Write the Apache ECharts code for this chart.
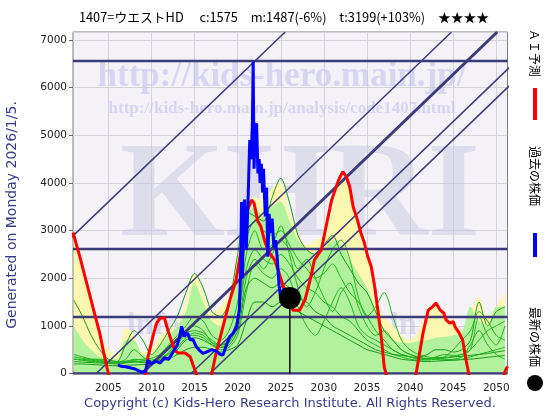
<!DOCTYPE html>
<html><head><meta charset="utf-8">
<script src="https://cdn.jsdelivr.net/npm/echarts@6/dist/echarts.min.js"></script>
<style>html,body{margin:0;padding:0;background:#fff}#c{width:560px;height:420px}</style>
</head><body><div id="c"></div>
<script>
// ---------- data ----------
const xTicks = [2005, 2010, 2015, 2020, 2025, 2030, 2035, 2040, 2045, 2050];
const years = [2001,2002,2003,2004,2005,2006,2007,2008,2009,2010,2011,2012,2013,2014,2015,2016,2017,2018,2019,2020,2021,2022,2023,2024,2025,2026,2027,2028,2029,2030,2031,2032,2033,2034,2035,2036,2037,2038,2039,2040,2041,2042,2043,2044,2045,2046,2047,2048,2049,2050,2051];

const bandYellow = [2950,2100,1500,900,500,400,950,800,450,500,800,900,1000,1500,2100,1700,1300,1400,1700,2600,3600,3700,3600,3900,4000,3400,2900,2700,2800,2900,3500,4100,3900,3200,2600,1600,1200,1000,800,700,900,1300,1500,1200,1100,900,1300,1600,1200,1400,1700];
const bandGreen = [1000,700,500,350,300,300,700,700,400,400,600,800,1000,1300,1900,1500,1100,1000,1300,2200,3300,3500,3300,3500,3600,3200,2800,2600,2500,2600,2800,2700,2400,2100,1800,1300,900,700,650,640,680,700,750,770,800,850,1400,1100,1000,1400,1400];

const green1 = [1540,1200,800,500,300,250,600,900,700,400,600,900,1200,1700,2100,1800,1300,1200,1500,2500,3400,3300,3200,3700,4100,3600,2900,2600,2500,2700,2900,2500,2200,1900,1700,1300,900,700,500,400,350,400,500,500,450,500,700,1500,1000,1300,1400];
const green2 = [400,350,300,280,250,230,300,500,350,250,400,600,800,1000,1200,1100,800,700,900,1500,2800,3200,3000,2900,3000,2700,2400,2200,2000,2100,2300,2000,1700,1500,1200,900,700,500,400,350,300,300,350,400,380,400,500,700,900,1000,1100];
const green3 = [300,280,260,250,240,230,250,300,280,260,300,450,650,850,900,850,700,600,700,1200,2200,2600,2400,2300,2500,2300,2000,1800,1700,1500,1400,1200,1100,900,700,600,500,400,350,300,280,300,320,300,280,300,350,400,450,500,550];
const green4 = [250,240,230,220,210,200,220,240,230,220,260,350,500,700,750,700,600,550,600,900,1800,2000,1900,1800,1900,1800,1600,1500,1300,1200,1000,900,800,700,600,500,450,400,380,350,330,320,330,340,350,360,380,400,420,450,480];
const green5 = [350,320,300,300,280,250,260,280,300,320,400,500,700,900,1000,900,650,550,650,1100,2500,3000,2600,2700,3100,2500,1800,1400,1700,2200,2600,2800,2400,1600,1200,1400,1700,1200,700,500,400,350,300,280,300,350,600,900,600,400,300];
const green6 = [300,300,280,260,240,220,230,250,260,280,330,420,600,800,800,750,600,500,550,800,1700,2300,2100,2000,2200,2000,1400,1000,800,1100,1500,1800,1500,1000,800,700,600,500,400,350,300,280,300,320,350,400,500,1200,800,600,1000];
const green7 = [200,200,190,180,170,160,170,180,190,200,250,300,400,500,550,550,500,450,500,600,1100,1500,1500,1400,1500,1400,1300,1200,1100,1000,900,800,700,600,500,450,400,350,300,280,260,250,260,270,280,290,300,320,340,360,380];
const green8 = [300,280,250,240,230,220,240,260,240,230,280,400,550,750,850,800,650,600,650,1000,2000,2400,2200,2500,2800,2600,2200,2400,2000,1600,1300,1700,1900,1400,1000,800,900,700,500,400,350,300,320,350,500,700,900,1300,1100,800,700];

const blueYears = [2006.1,2006.5,2007,2007.5,2008,2008.5,2008.9,2009.3,2009.6,2010,2010.5,2011,2011.5,2012,2012.5,2013,2013.3,2013.5,2013.8,2014.2,2014.5,2014.8,2015.2,2015.6,2016,2016.5,2017,2017.5,2018,2018.3,2018.7,2019.1,2019.5,2019.9,2020.2,2020.35,2020.45,2020.55,2020.7,2020.8,2021.0,2021.2,2021.4,2021.55,2021.7,2021.8,2021.9,2022.05,2022.2,2022.35,2022.5,2022.6,2022.75,2022.9,2023.0,2023.2,2023.35,2023.5,2023.65,2023.8,2024.0,2024.2,2024.4,2024.6,2024.8,2025.0,2025.3,2025.5,2025.7,2026.0];
const blueValues = [180,150,140,120,100,60,30,40,280,200,260,220,330,300,450,600,800,990,780,850,700,720,560,480,420,460,500,470,400,390,600,780,850,1000,1350,2200,3600,2000,3500,3650,2600,3600,4900,4500,5200,6550,4300,5200,5250,4200,4500,4000,4400,3800,4300,3300,3900,2450,3350,2950,3250,2650,2800,2400,1850,1550,1780,1750,1600,1585];

const redYears = [2000.9,2001.7,2002.3,2002.9,2003.5,2004.0,2004.5,2005.0,2005.5,2007,2009,2009.3,2009.6,2010.2,2010.6,2011.0,2011.5,2011.9,2012.3,2012.7,2013.1,2013.9,2014.5,2014.9,2015.2,2015.6,2016.5,2017.0,2017.5,2018.3,2019.1,2019.8,2020.4,2020.8,2021.3,2021.6,2021.9,2022.3,2022.7,2023.2,2023.7,2024.3,2024.8,2025.3,2025.7,2026.0,2026.4,2027.2,2027.8,2028.4,2028.9,2029.3,2029.7,2030.1,2030.5,2030.9,2031.3,2031.7,2032.2,2032.6,2033.0,2033.4,2033.9,2034.3,2034.7,2035.1,2035.5,2035.9,2036.3,2036.7,2037.0,2037.2,2037.6,2040.3,2040.7,2041.5,2042.1,2042.6,2043.0,2043.5,2043.9,2044.2,2044.6,2045.0,2045.2,2045.7,2046.1,2046.5,2046.8,2047.2,2050.6,2051.0,2051.3];
const redValues = [2960,2450,2030,1610,1190,850,400,0,-400,-600,-400,-50,350,800,1060,1160,1170,910,700,490,430,430,350,140,0,-300,-300,0,430,985,1540,1960,2590,3220,3500,3640,3580,3220,3080,2740,2530,2380,2110,1820,1690,1585,1330,1330,1540,1960,2380,2490,2590,2950,3300,3640,3850,4060,4240,4130,3920,3500,3220,2950,2740,2450,2240,1820,1270,700,140,0,-400,-400,0,850,1330,1400,1480,1330,1270,1120,1060,1090,985,850,700,280,0,-400,-300,40,150];

const levels = [6560, 2615, 1185, 0];
const diagStartYears = [1984.3, 2003.6, 2008.9, 2014.6, 2016.8]; // year where each trend line crosses 0
const diagSlope = 174; // value per year
const latest = [2026.05, 1585];

// ---------- chart ----------
const X_MIN = 2000.9, X_MAX = 2051.3, Y_MAX = 7170;
const navy = '#3b3b78';
const series = [];
const zip = (xs, ys) => xs.map((x, i) => [x, ys[i]]);

series.push({type:'line', data: zip(years, bandYellow), symbol:'none', smooth:0.3, lineStyle:{width:0}, areaStyle:{color:'#fbf6b0', opacity:1}, z:2, silent:true});
series.push({type:'line', data: zip(years, bandGreen), symbol:'none', smooth:0.3, lineStyle:{width:0}, areaStyle:{color:'#b2f29c', opacity:1}, z:2, silent:true});
[green1, green2, green3, green4, green5, green6, green7, green8].forEach((g, i) => {
  series.push({type:'line', data: zip(years, g), symbol:'none', smooth:0.3, lineStyle:{width:1, color: i % 3 === 0 ? '#1a9a1a' : '#22b422'}, z:3, silent:true});
});
levels.forEach(v => {
  series.push({type:'line', data:[[X_MIN, v],[X_MAX, v]], symbol:'none', lineStyle:{width:2.5, color:navy}, z:4, silent:true});
});
diagStartYears.forEach((y0, i) => {
  series.push({type:'line', data:[[y0, 0],[y0 + Y_MAX/diagSlope, Y_MAX]], symbol:'none', lineStyle:{width: i === 2 ? 3 : 1.5, color:navy}, z:4, silent:true});
});
series.push({type:'line', data:[[latest[0], 0], latest], symbol:'none', lineStyle:{width:1.5, color:'#111'}, z:5, silent:true});
series.push({type:'line', data: zip(redYears, redValues), symbol:'none', lineStyle:{width:3, color:'#ff0000'}, z:6, silent:true});
series.push({type:'line', data: zip(blueYears, blueValues), symbol:'none', lineStyle:{width:3, color:'#0000ff'}, z:7, silent:true});
series.push({type:'scatter', data:[latest], symbol:'circle', symbolSize:22, itemStyle:{color:'#000', opacity:1}, z:8, silent:true});

const chart = echarts.init(document.getElementById('c'), null, {renderer:'canvas'});
chart.setOption({
  animation:false,
  backgroundColor:'#ffffff',
  grid:{left:73, right:52.5, top:32, bottom:46.5, show:true, backgroundColor:'#f5f2f7', borderColor:'#7a7a7a', borderWidth:1},
  xAxis:{type:'value', min:X_MIN, max:X_MAX,
    axisLine:{show:false},
    axisTick:{show:false, customValues:xTicks},
    axisLabel:{customValues:xTicks, formatter: v => String(v), color:'#222', fontSize:10.5, fontFamily:'DejaVu Sans', margin:9},
    splitLine:{show:true, lineStyle:{color:'#d6d3da', width:1}}},
  yAxis:{type:'value', min:0, max:Y_MAX, interval:1000,
    axisLine:{show:false},
    axisTick:{show:true, length:4, lineStyle:{color:'#666'}},
    axisLabel:{formatter: v => String(v), color:'#222', fontSize:10.5, fontFamily:'DejaVu Sans', margin:6, showMaxLabel:false},
    splitLine:{show:true, lineStyle:{color:'#d6d3da', width:1}}},
  graphic:[
    {type:'text', z:1, style:{text:'KHRI', x:300, y:200, textAlign:'center', textVerticalAlign:'middle', font:'bold 135px "Liberation Serif"', fill:'rgba(200,200,225,0.5)'}},
    {type:'text', z:1, style:{text:'http://kids-hero.main.jp/', x:282, y:77, textAlign:'center', textVerticalAlign:'middle', font:'bold 35px "Liberation Serif"', fill:'rgba(195,195,238,0.6)'}},
    {type:'text', z:1, style:{text:'http://kids-hero.main.jp/analysis/code1407.html', x:282, y:109, textAlign:'center', textVerticalAlign:'middle', font:'bold 17px "Liberation Serif"', fill:'rgba(195,195,238,0.6)'}},
    {type:'text', z:1, style:{text:'info@kids-hero.main.jp', x:290, y:326, textAlign:'center', textVerticalAlign:'middle', font:'bold 32px "Liberation Serif"', fill:'rgba(190,190,225,0.5)'}},
    {type:'text', style:{text:'1407=ウエストHD　 c:1575　m:1487(-6%)　t:3199(+103%)　★★★★', x:284, y:17, textAlign:'center', textVerticalAlign:'middle', font:'12.8px "Noto Sans CJK JP"', fill:'#000'}},
    {type:'text', style:{text:'Copyright (c) Kids-Hero Research Institute. All Rights Reserved.', x:290, y:404, textAlign:'center', textVerticalAlign:'middle', font:'13px "DejaVu Sans"', fill:'#3a3a8a'}},
    {type:'text', x:12, y:215, rotation:Math.PI/2, style:{text:'Generated on Monday 2026/1/5.', x:0, y:0, textAlign:'center', textVerticalAlign:'middle', font:'14px "DejaVu Sans"', fill:'#3a3a8a'}},
    {type:'text', x:535, y:53, rotation:-Math.PI/2, style:{text:'ＡＩ予測', x:0, y:0, textAlign:'center', textVerticalAlign:'middle', font:'12px "Noto Sans CJK JP"', fill:'#000'}},
    {type:'rect', shape:{x:533, y:88, width:4, height:32}, style:{fill:'#ff0000'}},
    {type:'text', x:535, y:176, rotation:-Math.PI/2, style:{text:'過去の株価', x:0, y:0, textAlign:'center', textVerticalAlign:'middle', font:'12px "Noto Sans CJK JP"', fill:'#000'}},
    {type:'rect', shape:{x:533, y:233, width:4, height:24}, style:{fill:'#0000ff'}},
    {type:'text', x:535, y:337, rotation:-Math.PI/2, style:{text:'最新の株価', x:0, y:0, textAlign:'center', textVerticalAlign:'middle', font:'12px "Noto Sans CJK JP"', fill:'#000'}},
    {type:'circle', shape:{cx:535, cy:383, r:8}, style:{fill:'#000'}}
  ],
  series: series
});
</script></body></html>
